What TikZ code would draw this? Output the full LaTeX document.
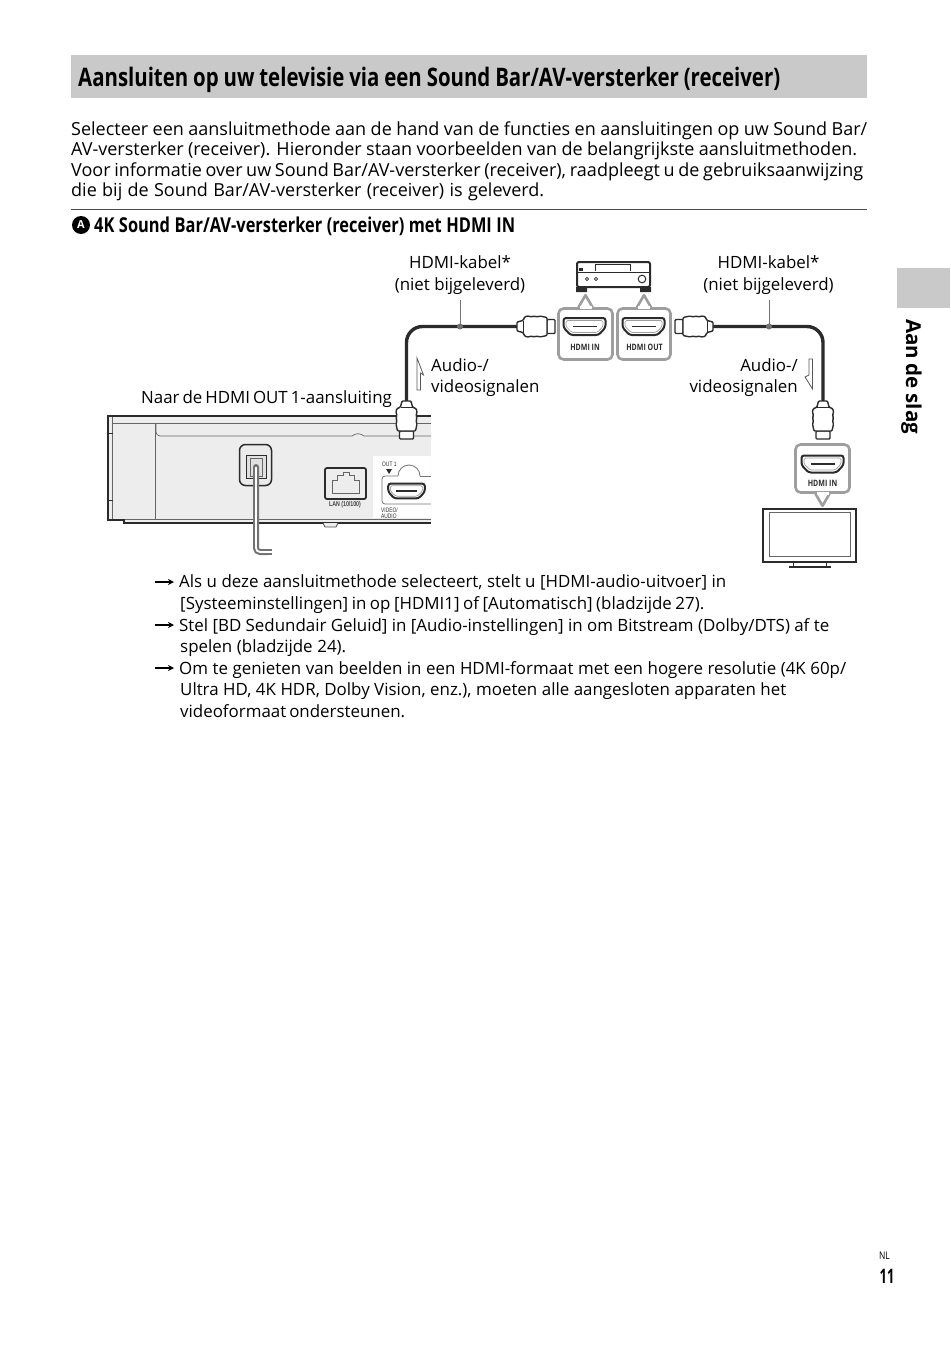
\documentclass[tikz,border=0pt]{standalone}
\usepackage{fontspec}
\setmainfont{Open Sans}
\newfontfamily\headfont[FakeStretch=.8]{Open Sans}
\newfontfamily\tagfont[FakeStretch=.75]{Liberation Sans}
\usetikzlibrary{arrows.meta}
\definecolor{barfill}{HTML}{C9C9C9}
\definecolor{boxgrey}{HTML}{9E9E9E}
\definecolor{inkdark}{HTML}{2B2B2B}
\definecolor{bodygrey}{HTML}{EDEDED}
\newcommand{\fitline}[2]{\makebox[#1pt][s]{#2}}
\tikzset{
  line/.style={inner sep=0pt,anchor=base west,font=\fontsize{18}{20}\selectfont},
  label/.style={line,font=\fontsize{16.9}{20}\selectfont},
  midlabel/.style={label,anchor=base},
  endlabel/.style={label,anchor=base east},
  cable/.style={line width=3.4pt,inkdark},
  portbox/.style={draw=boxgrey,line width=2.6pt,rounded corners=5pt,fill=white,inner sep=0pt},
  boxline/.style={draw=boxgrey,line width=2.6pt,line join=round},
  porttag/.style={inner sep=0pt,font=\headfont\bfseries\fontsize{8.8}{10}\selectfont,inkdark},
  tinytag/.style={inner sep=0pt,anchor=base west,font=\tagfont\fontsize{6.5}{7}\selectfont,inkdark},
  signal/.style={draw=black!65,line width=.8pt,fill=white},
  leader/.style={draw=black!55,line width=1pt},
  hdmiplug/.pic={
    \draw[inkdark,line width=1.4pt,fill=white,rounded corners=1pt] (30,-7)--(38,-7)--(38,7)--(30,7)--cycle;
    \draw[inkdark,line width=1.4pt,fill=white,rounded corners=1pt] (0,-4.5)--(6,-6)--(8,-10)--(12,-10.5)--(14,-9.5)--(17,-10.5)--(20,-9.5)--(23,-10.5)--(30,-9)--(30,9)--(23,10.5)--(20,9.5)--(17,10.5)--(14,9.5)--(12,10.5)--(8,10)--(6,6)--(0,4.5)--cycle;
    \draw[inkdark,line width=.6pt] (6,-6)--(6,6);
  },
  hdmiport/.pic={
    \draw[inkdark,line width=2pt,fill=white,rounded corners=2.5pt] (-21,-8.5)--(21,-8.5)--(21,1)--(14,8.5)--(-14,8.5)--(-21,1)--cycle;
    \draw[boxgrey,line width=.7pt,rounded corners=1.5pt] (-18.5,-6)--(18.5,-6)--(18.5,0)--(12.5,6)--(-12.5,6)--(-18.5,0)--cycle;
    \draw[inkdark,line width=1.2pt] (-12,0)--(12,0);
  },
  portnotch/.pic={
    \draw[boxline,fill=white] (-7,0)--(0,-12)--(7,0);
    \fill[white] (-6,-1.6) rectangle (6,1.6);
  },
}
\begin{document}
\begin{tikzpicture}[x=1pt,y=-1pt,>=Stealth]
\useasboundingbox (0,0) rectangle (950,1346);
% heading and intro
\fill[barfill] (71,55) rectangle (867,98);
\node[line,font=\headfont\bfseries\fontsize{25.5}{28}\selectfont] (title) at (78,86) {\fitline{702}{Aansluiten op uw televisie via een Sound Bar/AV-versterker (receiver)}};
\node[line] (introA) at (71,135) {\fitline{796}{Selecteer een aansluitmethode aan de hand van de functies en aansluitingen op uw Sound Bar/}};
\node[line] (introB) at (71,155.5) {\fitline{786}{AV-versterker (receiver). Hieronder staan voorbeelden van de belangrijkste aansluitmethoden.}};
\node[line] (introC) at (71,176) {\fitline{792}{Voor informatie over uw Sound Bar/AV-versterker (receiver), raadpleegt u de gebruiksaanwijzing}};
\node[line] (introD) at (71,196) {\fitline{473}{die bij de Sound Bar/AV-versterker (receiver) is geleverd.}};
\draw[black!70,line width=1pt] (71,209)--(867,209);
\node[circle,fill=black,text=white,inner sep=0pt,minimum size=18pt,font=\bfseries\fontsize{11}{12}\selectfont] (markA) at (81,225) {A};
\node[line,font=\headfont\bfseries\fontsize{20.5}{24}\selectfont] (subhead) at (94,232) {\fitline{421}{4K Sound Bar/AV-versterker (receiver) met HDMI IN}};
% player
\fill[bodygrey] (108,416)--(431,416)--(431,523)--(124,523)--(124,520)--(108,520)--cycle;
\draw[black!60,line width=.7pt] (112,423)--(431,423);
\draw[black!60,line width=.7pt] (112,417)--(112,519)--(431,519);
\draw[black!60,line width=.7pt] (155,423)--(155,519);
\draw[black!60,line width=.7pt,rounded corners=4pt] (156,423)--(156,436)--(350,436);
\draw[black!60,line width=.7pt] (350,436)--(352,436) .. controls (356,433) and (360,433) .. (364,436)--(431,436);
\draw[inkdark,line width=1pt] (108,433)--(113,433) (108,500)--(113,500);
\draw[inkdark,line width=1.5pt] (431,416)--(108,416)--(108,520)--(124,520)--(124,523)--(431,523);
\draw[black!70,line width=.8pt,fill=bodygrey] (323,523)--(325,527)--(336,527)--(338,523);
\node[draw=inkdark,line width=1.5pt,rounded corners=6pt,fill=black!8,minimum width=32pt,minimum height=41pt,inner sep=0pt] (socket) at (255.5,465) {};
\node[draw=inkdark,line width=.8pt,fill=black!12,minimum width=20pt,minimum height=23pt,inner sep=0pt] (socketin) at (256,466.5) {};
\node[draw=black!60,line width=.7pt,fill=black!12,minimum width=12pt,minimum height=18pt,inner sep=0pt] (socketcore) at (256,467) {};
\draw[black!55,line width=6pt,rounded corners=4pt,line cap=round] (256,467)--(256,552)--(268,552);
\draw[black!55,line width=6pt] (268,552)--(272,552);
\draw[white,line width=1.8pt,rounded corners=4pt] (256,467)--(256,552)--(272,552);
\node[draw=inkdark,line width=1.8pt,rounded corners=2pt,fill=bodygrey,minimum width=41pt,minimum height=31pt,inner sep=0pt] (lan) at (345.5,483.5) {};
\draw[black!60,line width=.9pt] (332,493)--(332,480)--(337,480)--(337,475)--(343,475)--(343,472)--(349,472)--(349,475)--(354,475)--(354,480)--(359,480)--(359,493)--cycle;
\node[inner sep=0pt,font=\tagfont\bfseries\fontsize{7}{8}\selectfont,black!75] (lantag) at (345,505) {LAN (10/100)};
\fill[white] (373,456) rectangle (431,518);
\draw[black!55,line width=.8pt,rounded corners=3pt] (431,476)--(420,476);
\draw[black!55,line width=.8pt] (420,476) arc(0:-180:11);
\draw[black!55,line width=.8pt,rounded corners=3pt] (398,476)--(382,476)--(382,504)--(431,504);
\node[tinytag] (outtag) at (382,466) {OUT 1};
\fill[inkdark] (386,469)--(392,469)--(389,474)--cycle;
\pic[scale=.87] at (406.5,491) {hdmiport};
\node[tinytag] (videotag) at (381,512) {VIDEO/};
\node[tinytag] (audiotag) at (381,518) {AUDIO};
% receiver
\draw[inkdark,line width=2pt,rounded corners=2pt,fill=white] (577,262)--(650,262)--(650,287)--(577,287)--cycle;
\draw[inkdark,line width=1pt] (577,272)--(650,272);
\draw[inkdark,line width=.8pt] (595,264)--(595,271) (630,264)--(630,271) (595,264)--(630,264);
\fill[inkdark] (579,268) rectangle (583,271);
\draw[inkdark,line width=.6pt] (587,279) circle(1.6pt) (596,279) circle(1.6pt);
\draw[inkdark,line width=1pt] (642,279) circle(3.8pt);
\fill[inkdark] (576,287) rectangle (587,292) (640,287) rectangle (651,292);
% tv
\node[draw=inkdark,line width=2.4pt,fill=white,minimum width=93pt,minimum height=53pt,inner sep=0pt] (tv) at (809.5,535.5) {};
\node[draw=black!60,line width=.9pt,minimum width=81pt,minimum height=44pt,inner sep=0pt] (screen) at (809.5,534) {};
\draw[inkdark,line width=.8pt] (793,563)--(793,567) (826,563)--(826,567);
\draw[inkdark,line width=2.4pt] (789,567)--(831,567);
% port boxes
\node[portbox,minimum width=54pt,minimum height=51pt] (boxin) at (585.5,334) {};
\node[portbox,minimum width=53pt,minimum height=51pt] (boxout) at (644,334) {};
\node[portbox,minimum width=54pt,minimum height=48pt] (boxtv) at (822.5,468.5) {};
\pic at (boxin.north) {portnotch};
\pic at (boxout.north) {portnotch};
\pic[rotate=180] at (boxtv.south) {portnotch};
\pic at (584.5,326.5) {hdmiport};
\pic at (643.5,326.5) {hdmiport};
\pic at (822.5,464) {hdmiport};
\node[porttag] (tagin) at (585,347) {HDMI IN};
\node[porttag] (tagout) at (644.5,347) {HDMI OUT};
\node[porttag] (tagtv) at (822.5,483) {HDMI IN};
% cables
\coordinate (plugL) at (406.5,401);
\coordinate (plugA) at (517,326.5);
\coordinate (plugB) at (713,326.5);
\coordinate (plugR) at (823,401);
\draw[cable,rounded corners=16pt] (plugL)|-(plugA);
\draw[cable,rounded corners=16pt] (plugB)-|(plugR);
\pic[rotate=-90] at (plugL) {hdmiplug};
\pic at (plugA) {hdmiplug};
\pic[rotate=180] at (plugB) {hdmiplug};
\pic[rotate=-90] at (plugR) {hdmiplug};
\coordinate (dotL) at (460,326.5);
\coordinate (dotR) at (769,326.5);
\coordinate (tipL) at (460,300);
\coordinate (tipR) at (769,300);
\draw[leader] (tipL)--(dotL);
\draw[leader] (tipR)--(dotR);
\fill[black!55] (dotL) circle(3pt) (dotR) circle(3pt);
\draw[signal] (417,390)--(417,358)--(423.5,375)--(420.5,373)--(420.5,390)--cycle;
\draw[signal] (812.5,359)--(809,359)--(809,375)--(805,377)--(812.5,389)--cycle;
% labels
\node[midlabel] (cableA) at (460,268) {HDMI-kabel*};
\node[midlabel] (cableB) at (460,290) {(niet bijgeleverd)};
\node[midlabel] (cableC) at (768.5,268) {HDMI-kabel*};
\node[midlabel] (cableD) at (768.5,290) {(niet bijgeleverd)};
\node[label] (audioA) at (431,371) {Audio-/};
\node[label] (videoA) at (431,392.5) {videosignalen};
\node[endlabel] (audioB) at (798,371) {Audio-/};
\node[endlabel] (videoB) at (798,392.5) {videosignalen};
\node[label] (naar) at (141,403) {\fitline{250}{Naar de HDMI OUT 1-aansluiting}};
% notes
\foreach \n/\y in {arrowA/582,arrowB/625,arrowC/668}{
  \coordinate (\n) at (155,\y);
  \draw[->,black,line width=1.1pt,>={Stealth[length=6pt,width=6pt]}] (\n)--++(19,0);
}
\node[label] (noteA) at (179,587.5) {\fitline{547}{Als u deze aansluitmethode selecteert, stelt u [HDMI-audio-uitvoer] in}};
\node[label] (noteB) at (180,609.5) {\fitline{524}{[Systeeminstellingen] in op [HDMI1] of [Automatisch] (bladzijde 27).}};
\node[label] (noteC) at (179,631) {\fitline{650}{Stel [BD Sedundair Geluid] in [Audio-instellingen] in om Bitstream (Dolby/DTS) af te}};
\node[label] (noteD) at (180,652.5) {\fitline{166}{spelen (bladzijde 24).}};
\node[label] (noteE) at (179,674) {\fitline{667}{Om te genieten van beelden in een HDMI-formaat met een hogere resolutie (4K 60p/}};
\node[label] (noteF) at (180,695.5) {\fitline{606}{Ultra HD, 4K HDR, Dolby Vision, enz.), moeten alle aangesloten apparaten het}};
\node[label] (noteG) at (180,717) {\fitline{225}{videoformaat ondersteunen.}};
% tab and page number
\fill[barfill] (897,268) rectangle (950,308);
\node[inner sep=0pt,rotate=-90,anchor=base west,font=\bfseries\fontsize{20.5}{22}\selectfont] (tab) at (906,319) {\fitline{115}{Aan de slag}};
\node[inner sep=0pt,font=\headfont\fontsize{10.5}{12}\selectfont] (lang) at (884.5,1256) {NL};
\node[inner sep=0pt,xscale=.8,font=\headfont\bfseries\fontsize{20}{22}\selectfont] (page) at (887,1276) {11};
\end{tikzpicture}
\end{document}
